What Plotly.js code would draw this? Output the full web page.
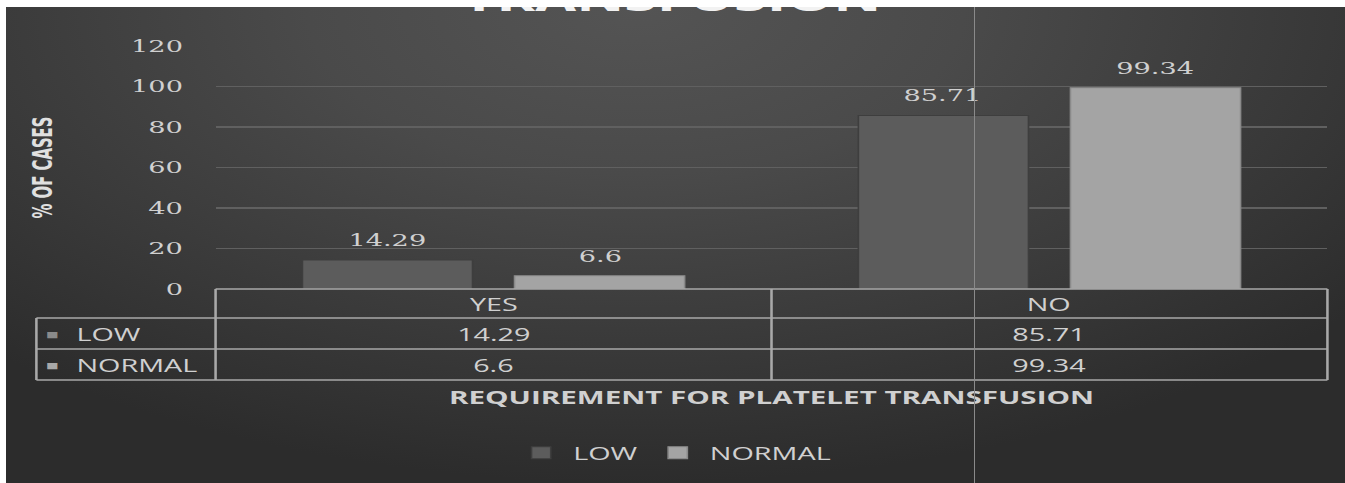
<!DOCTYPE html>
<html>
<head>
<meta charset="utf-8">
<script src="https://cdn.plot.ly/plotly-3.0.1.min.js"></script>
<style>
  html, body { margin: 0; padding: 0; background: #ffffff; width: 1345px; height: 483px; overflow: hidden; }
  #frame {
    position: absolute; left: 6px; top: 7px; width: 1339px; height: 476px; overflow: hidden;
    background: radial-gradient(ellipse 70% 100% at 47% 0%, #545454 0%, #4a4a4a 35%, #3a3a3a 70%, #2c2c2c 100%);
  }
  /* the chart is laid out narrow and widened horizontally */
  #chart { position: absolute; left: 0; top: 0; width: 837px; height: 476px; transform: scaleX(1.5998); transform-origin: 0 0; }
  #rule { position: absolute; left: 968px; top: 0; width: 1px; height: 476px; background: #8a8a8a; }
</style>
</head>
<body>
<div id="frame"><div id="chart"></div><div id="rule"></div></div>
<script>
// Data
const categories = ['YES', 'NO'];
const seriesNames = ['LOW', 'NORMAL'];
const lowValues = [14.29, 85.71];
const normalValues = [6.6, 99.34];
const yTickValues = [0, 20, 40, 60, 80, 100, 120];

const seriesValues = [lowValues, normalValues];
const seriesColors = ['#5c5c5c', '#a4a4a4'];
const seriesEdges = ['#3e3e3e', '#8a8a8a'];

// Geometry (unscaled chart px)
const W = 837, H = 476;
const M = { l: 131, r: 11, t: 39, b: 194 };
const plotW = W - M.l - M.r;
const plotH = H - M.t - M.b;
const toPaperX = u => (u - M.l) / plotW;
const toPaperY = v => (H - M.b - v) / plotH;

const bargap = 0.237, bargroupgap = 0.198;
const barOffset = (1 - bargap) / 4;

const textColor = '#d0d0d0';
const numFont = 'DejaVu Serif, serif';
const sansFont = 'Open Sans, Liberation Sans, sans-serif';

const traces = seriesNames.map((name, i) => ({
  type: 'bar',
  name: name,
  x: categories,
  y: seriesValues[i],
  marker: { color: seriesColors[i], line: { color: seriesEdges[i], width: 1 } },
  hoverinfo: 'x+y+name'
}));

// Data table under the plot
const tableLeft = toPaperX(19);
const headerTop = 0;
const rowLines = [toPaperY(311), toPaperY(342), toPaperY(373)];
const headerMid = toPaperY(297);
const rowMids = [toPaperY(327), toPaperY(358)];
const lineStyle = { color: '#a9a9a9', width: 1.6 };

const shapes = [
  { type: 'line', xref: 'paper', yref: 'paper', x0: 0, x1: 1, y0: headerTop, y1: headerTop, line: lineStyle },
  ...rowLines.map(y => ({ type: 'line', xref: 'paper', yref: 'paper', x0: tableLeft, x1: 1, y0: y, y1: y, line: lineStyle })),
  { type: 'line', xref: 'paper', yref: 'paper', x0: tableLeft, x1: tableLeft, y0: rowLines[0], y1: rowLines[2], line: lineStyle },
  ...[0, 0.5, 1].map(x => ({ type: 'line', xref: 'paper', yref: 'paper', x0: x, x1: x, y0: headerTop, y1: rowLines[2], line: lineStyle }))
];

const cellFont = { family: sansFont, size: 18, color: textColor };
const annotations = [];
// column headers
categories.forEach(c => annotations.push({
  xref: 'x', yref: 'paper', x: c, y: headerMid, xanchor: 'center', yanchor: 'middle',
  text: c, showarrow: false, font: cellFont
}));
// rows: marker, series name, values
seriesNames.forEach((name, i) => {
  annotations.push({
    xref: 'paper', yref: 'paper', x: toPaperX(29.5), y: rowMids[i], xanchor: 'center', yanchor: 'middle',
    text: '■', showarrow: false,
    font: { family: sansFont, size: 13, color: i === 0 ? '#8a8a8a' : '#a8a8a8' }
  });
  annotations.push({
    xref: 'paper', yref: 'paper', x: toPaperX(42), y: rowMids[i], xanchor: 'left', yanchor: 'middle',
    text: name, showarrow: false, font: cellFont
  });
  categories.forEach((c, j) => annotations.push({
    xref: 'x', yref: 'paper', x: c, y: rowMids[i], xanchor: 'center', yanchor: 'middle',
    text: String(seriesValues[i][j]), showarrow: false, font: cellFont
  }));
});
// value labels above the bars
seriesNames.forEach((name, i) => {
  categories.forEach((c, j) => annotations.push({
    xref: 'x', yref: 'y', x: j + (i === 0 ? -barOffset : barOffset), y: seriesValues[i][j],
    xanchor: 'center', yanchor: 'bottom', yshift: 8, text: String(seriesValues[i][j]), showarrow: false,
    font: { family: numFont, size: 17, color: textColor }
  }));
});
// chart heading, running off the top edge
annotations.push({
  xref: 'paper', yref: 'paper', x: toPaperX(416), y: toPaperY(16.5), xanchor: 'center', yanchor: 'bottom',
  text: 'TRANSFUSION', showarrow: false,
  font: { family: sansFont, size: 37, color: '#f2f2f2', weight: 700 }
});

const layout = {
  width: W, height: H,
  margin: M,
  paper_bgcolor: 'rgba(0,0,0,0)',
  plot_bgcolor: 'rgba(0,0,0,0)',
  barmode: 'group',
  bargap: bargap,
  bargroupgap: bargroupgap,
  showlegend: true,
  legend: {
    orientation: 'h', x: toPaperX(418), xanchor: 'center', y: toPaperY(446), yanchor: 'middle',
    font: { family: sansFont, size: 18, color: textColor }, bgcolor: 'rgba(0,0,0,0)'
  },
  xaxis: {
    type: 'category', showticklabels: false, showgrid: false, zeroline: false, showline: false, ticks: '',
    title: { text: 'REQUIREMENT FOR PLATELET TRANSFUSION', standoff: 102,
             font: { family: sansFont, size: 18.5, color: textColor, weight: 700 } }
  },
  yaxis: {
    range: [0, 120], tickvals: yTickValues, ticktext: yTickValues.map(String),
    ticks: 'outside', ticklen: 16, tickcolor: 'rgba(0,0,0,0)',
    tickfont: { family: numFont, size: 17, color: textColor },
    showgrid: true, gridcolor: '#606060', gridwidth: 1.3, zeroline: false, showline: false,
    title: { text: '% OF CASES', standoff: 44,
             font: { family: 'Liberation Sans Narrow, DejaVu Sans Condensed, sans-serif', size: 16.5, color: '#e0e0e0', weight: 700 } }
  },
  shapes: shapes,
  annotations: annotations
};

Plotly.newPlot('chart', traces, layout, { displayModeBar: false, staticPlot: true });
</script>
</body>
</html>
